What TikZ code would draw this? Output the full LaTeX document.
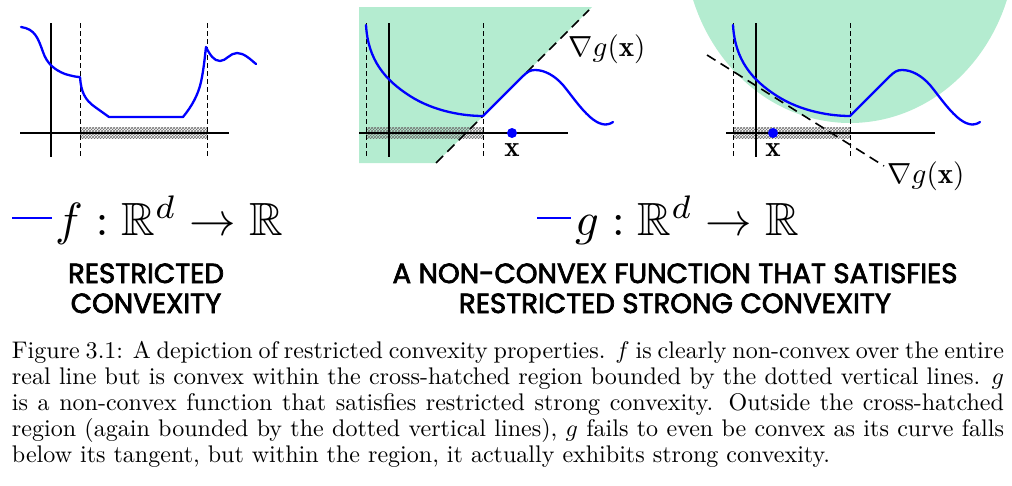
\RequirePackage{fix-cm}
\documentclass[tikz,border=0pt]{standalone}
\usepackage{amssymb}
\usepackage{graphicx}
\usepackage{fontspec}
\newfontfamily\headfont{Poppins}[FakeBold=2.6]
\usetikzlibrary{patterns}
\definecolor{mint}{RGB}{180,236,208}
\newlength\fitw
\newcommand\fitsize[3]{\settowidth\fitw{\fontsize{10pt}{12pt}\selectfont #2}\pgfmathsetmacro\fittmp{10*#3/\fitw}\global\let#1\fittmp}
\AtBeginDocument{%
  \fitsize\hsz{\headfont A NON-CONVEX FUNCTION THAT SATISFIES}{565}%
  \settowidth\fitw{\normalsize below its tangent, but within the region, it actually exhibits strong convexity.}%
  \pgfmathsetmacro\fittmp{818/\fitw}\global\let\csc\fittmp
  \pgfmathsetmacro\fittmp{992/\csc}\global\let\capw\fittmp
  \settowidth\fitw{\normalsize$f : \mathbb{R}^d \to \mathbb{R}$}%
  \pgfmathsetmacro\fittmp{228/\fitw}\global\let\msc\fittmp
  \settowidth\fitw{\normalsize$\nabla g(\mathbf{x})$}%
  \pgfmathsetmacro\fittmp{77/\fitw}\global\let\gsc\fittmp}
\newcommand\capline[1]{\scalebox{\csc}{\makebox[\capw pt][s]{#1}}}
\newcommand\headfnt{\fontsize{\hsz pt}{\hsz pt}\selectfont\headfont}
\begin{document}
\begin{tikzpicture}[x=1pt,y=-1pt,
  axis/.style={line width=1.8pt},
  vline/.style={line width=0.8pt, dash pattern=on 5pt off 3pt},
  tangent/.style={line width=1.6pt, dash pattern=on 10pt off 6pt},
  curve/.style={blue, line width=2.3pt, line join=round, line cap=round},
  legendline/.style={blue, line width=2.4pt},
  band/.style={pattern=crosshatch, pattern color=black!55},
  dot/.style={circle, fill=blue, minimum size=10pt, inner sep=0pt},
  lbl/.style={inner sep=0pt, outer sep=0pt}]
\useasboundingbox (0,0) rectangle (1012,485);

% green regions
\fill[mint] (359,7) -- (592,7) -- (436,163) -- (359,163) -- cycle;
\begin{scope}
  \clip (0,0) rectangle (1012,485);
  \fill[mint] (850,-60) ellipse [x radius=166, y radius=183];
\end{scope}

% left panel
\fill[band] (80,127) rectangle (207,138);
\draw[vline] (80,23) -- (80,157);
\draw[vline] (207,23) -- (207,157);
\draw[axis] (20,133) -- (229,133);
\draw[axis] (51,23) -- (51,157);
\draw[curve] (21,27) .. controls (35,29) and (38,38) .. (43,52)
  .. controls (47,64) and (55,70) .. (65,74)
  .. controls (72,76) and (76,77) .. (80,77)
  .. controls (81,92) and (85,100) .. (95,107) -- (109,117) -- (183,117)
  .. controls (192,106) and (198,95) .. (201,82)
  .. controls (204,68) and (205,55) .. (206,47)
  .. controls (210,55) and (214,61) .. (220,61)
  .. controls (226,61) and (230,53) .. (237,53)
  .. controls (244,53) and (250,59) .. (256,64);

% middle and right panels: band, guides, axes
\foreach \s in {0,367}{
  \begin{scope}[shift={(\s,0)}]
    \fill[band] (366,127) rectangle (483,138);
    \draw[vline] (366,23) -- (366,157);
    \draw[vline] (483,23) -- (483,157);
    \draw[axis] (359,133) -- (568,133);
    \draw[axis] (389,23) -- (389,157);
  \end{scope}}

% tangents
\draw[tangent] (436,163) -- (589,10);
\draw[tangent] (707,55) -- (884,166);

% curves g
\foreach \s in {0,367}{
  \begin{scope}[shift={(\s,0)}]
    \draw[curve] (366,25) .. controls (368,60) and (385,80) .. (410,96)
      .. controls (435,112) and (465,116) .. (483,116) -- (522,77)
      .. controls (527,72) and (530,70) .. (535,70)
      .. controls (545,70) and (555,76) .. (563,85)
      .. controls (572,96) and (580,108) .. (590,117)
      .. controls (598,124) and (606,127) .. (613,122);
  \end{scope}}

% points and labels
\node[dot] (p1) at (512,133) {};
\node[dot] (p2) at (773,133) {};
\node[lbl] (x1) at (512,150) {\scalebox{\gsc}{$\mathbf{x}$}};
\node[lbl] (x2) at (773,150) {\scalebox{\gsc}{$\mathbf{x}$}};
\node[lbl] (g1) at (607,49) {\scalebox{\gsc}{$\nabla g(\mathbf{x})$}};
\node[lbl] (g2) at (926,176) {\scalebox{\gsc}{$\nabla g(\mathbf{x})$}};

% function labels
\draw[legendline] (12,218) -- (52,218);
\node[lbl, anchor=base west] (flab) at (55,235) {\scalebox{\msc}{$f : \mathbb{R}^d \to \mathbb{R}$}};
\draw[legendline] (537,218) -- (571,218);
\node[lbl, anchor=base west] (glab) at (575,235) {\scalebox{\msc}{$g : \mathbb{R}^d \to \mathbb{R}$}};

% headings
\node[lbl, anchor=base] (h1a) at (146,283) {\headfnt RESTRICTED};
\node[lbl, anchor=base] (h1b) at (146,313) {\headfnt CONVEXITY};
\node[lbl, anchor=base] (h2a) at (675,283) {\headfnt A NON-CONVEX FUNCTION THAT SATISFIES};
\node[lbl, anchor=base] (h2b) at (675,313) {\headfnt RESTRICTED STRONG CONVEXITY};

% caption
\node[lbl, anchor=base west] (c1) at (12,358) {\capline{Figure 3.1: A depiction of restricted convexity properties. $f$ is clearly non-convex over the entire}};
\node[lbl, anchor=base west] (c2) at (12,384) {\capline{real line but is convex within the cross-hatched region bounded by the dotted vertical lines. $g$}};
\node[lbl, anchor=base west] (c3) at (12,410) {\capline{is a non-convex function that satisfies restricted strong convexity. Outside the cross-hatched}};
\node[lbl, anchor=base west] (c4) at (12,436) {\capline{region (again bounded by the dotted vertical lines), $g$ fails to even be convex as its curve falls}};
\node[lbl, anchor=base west] (c5) at (12,462) {\scalebox{\csc}{below its tangent, but within the region, it actually exhibits strong convexity.}};
\end{tikzpicture}
\end{document}
